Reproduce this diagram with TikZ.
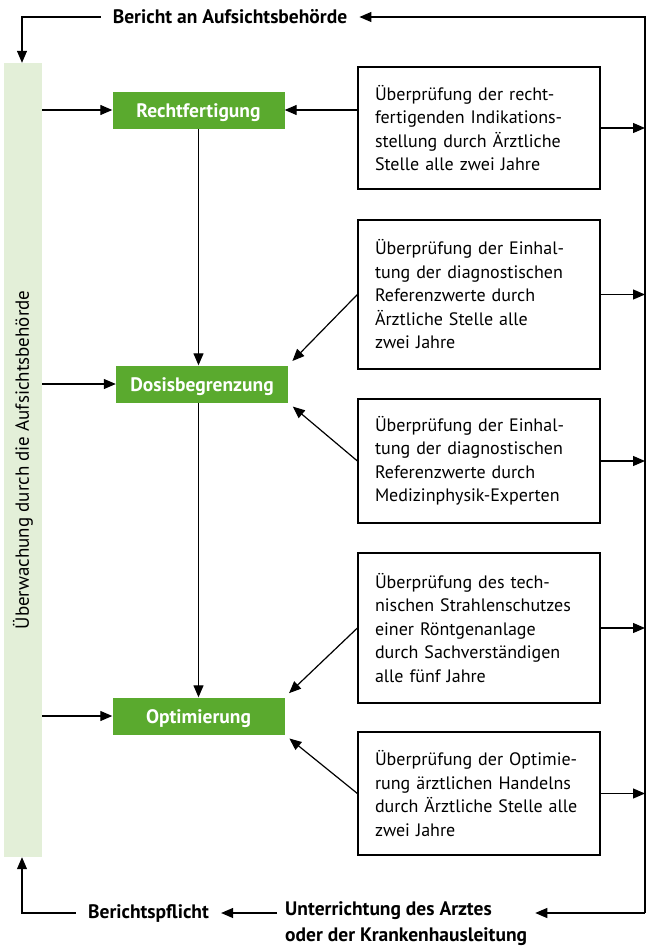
\documentclass[tikz,border=0pt]{standalone}
\usepackage{fontspec}
\setmainfont{PT Sans}
\usetikzlibrary{arrows.meta}
\definecolor{gruen}{RGB}{90,170,46}
\definecolor{hellgruen}{RGB}{227,239,216}
\tikzset{
	pfeil/.style={line width=1.2pt,-{Triangle[length=12pt,width=10pt]}},
	gbox/.style={fill=gruen, text=white, font=\fontsize{19.5}{22}\selectfont\bfseries, minimum width=172pt, minimum height=37pt, inner sep=0pt, text height=17pt, text depth=2pt},
	pbox/.style={draw, line width=1.2pt, text width=208pt, inner xsep=17pt, inner ysep=0pt, align=left, font=\fontsize{18}{23.5}\selectfont},
	ltext/.style={font=\fontsize{19.5}{26}\selectfont\bfseries, inner xsep=12pt, inner ysep=0pt}
}
\begin{document}
\begin{tikzpicture}[x=1pt,y=-1pt]
			\useasboundingbox (0,0) rectangle (654,950); % page as large as the reference
				\node[fill=hellgruen, minimum width=38pt, minimum height=794pt, inner sep=0pt] (band) at (23,460) {\rotatebox{90}{\fontsize{19}{22}\selectfont Überwachung durch die Aufsichtsbehörde}};
				\node[gbox] (rf) at (198.5,110) {Rechtfertigung};
				\node[gbox] (db) at (202,384) {Dosisbegrenzung};
				\node[gbox] (opt) at (198.5,716) {Optimierung};
				\node[pbox, minimum height=122pt] (p1) at (479,128) {Überprüfung der recht-\\fertigenden Indikations-\\stellung durch Ärztliche\\Stelle alle zwei Jahre};
				\node[pbox, minimum height=149pt] (p2) at (479,294.5) {Überprüfung der Einhal-\\tung der diagnostischen\\Referenzwerte durch\\Ärztliche Stelle alle\\zwei Jahre};
				\node[pbox, minimum height=124pt] (p3) at (479,461) {Überprüfung der Einhal-\\tung der diagnostischen\\Referenzwerte durch\\Medizinphysik-Experten};
				\node[pbox, minimum height=150pt] (p4) at (479,628) {Überprüfung des tech-\\nischen Strahlenschutzes\\einer Röntgenanlage\\durch Sachverständigen\\alle fünf Jahre};
				\node[pbox, minimum height=123pt] (p5) at (479,793.5) {Überprüfung der Optimie-\\rung ärztlichen Handelns\\durch Ärztliche Stelle alle\\zwei Jahre};
				\node[ltext] (bericht) at (230,17) {Bericht an Aufsichtsbehörde};
				\node[ltext] (pflicht) at (148.5,913) {Berichtspflicht};
				\node[ltext, align=left, anchor=north west, inner xsep=8pt] (unterr) at (277,901) {Unterrichtung des Arztes\\oder der Krankenhausleitung};
				\coordinate (ro) at (645,17); % right line, top
				\coordinate (ru) at (645,913); % right line, bottom
				\coordinate (lo) at (22,17);
				\coordinate (lu) at (22,913);
				% frame round the picture
				\draw[pfeil] (ru) -- (ro) -- (bericht.east);
				\draw[pfeil] (bericht.west) -- (lo) -- (lo |- band.north);
				\draw[pfeil] (ru) -- (ru -| unterr.east);
				\draw[pfeil] (ru -| unterr.west) -- (pflicht.east);
				\draw[pfeil] (pflicht.west) -- (lu) -- (lu |- band.south);
				% band to the green boxes
				\draw[pfeil] (band.east |- rf) -- (rf.west);
				\draw[pfeil] (band.east |- db) -- (db.west);
				\draw[pfeil] (band.east |- opt) -- (opt.west);
				\draw[pfeil] (rf.south) -- (rf.south |- db.north);
				\draw[pfeil] (rf.south |- db.south) -- (rf.south |- opt.north);
				% checks to the green boxes
				\draw[pfeil] (p1.west |- rf) -- (rf.east);
				\draw[pfeil, shorten >=6pt] (p2.west) -- (db.north east);
				\draw[pfeil, shorten >=6pt] (p3.west) -- (db.south east);
				\draw[pfeil, shorten >=6pt] (p4.west) -- (opt.north east);
				\draw[pfeil, shorten >=6pt] (p5.west) -- (opt.south east);
				% checks to the right line
				\draw[pfeil] (p1.east) -- (p1.east -| ro);
				\draw[pfeil] (p2.east) -- (p2.east -| ro);
				\draw[pfeil] (p3.east) -- (p3.east -| ro);
				\draw[pfeil] (p4.east) -- (p4.east -| ro);
				\draw[pfeil] (p5.east) -- (p5.east -| ro);
			\end{tikzpicture}
\end{document}
